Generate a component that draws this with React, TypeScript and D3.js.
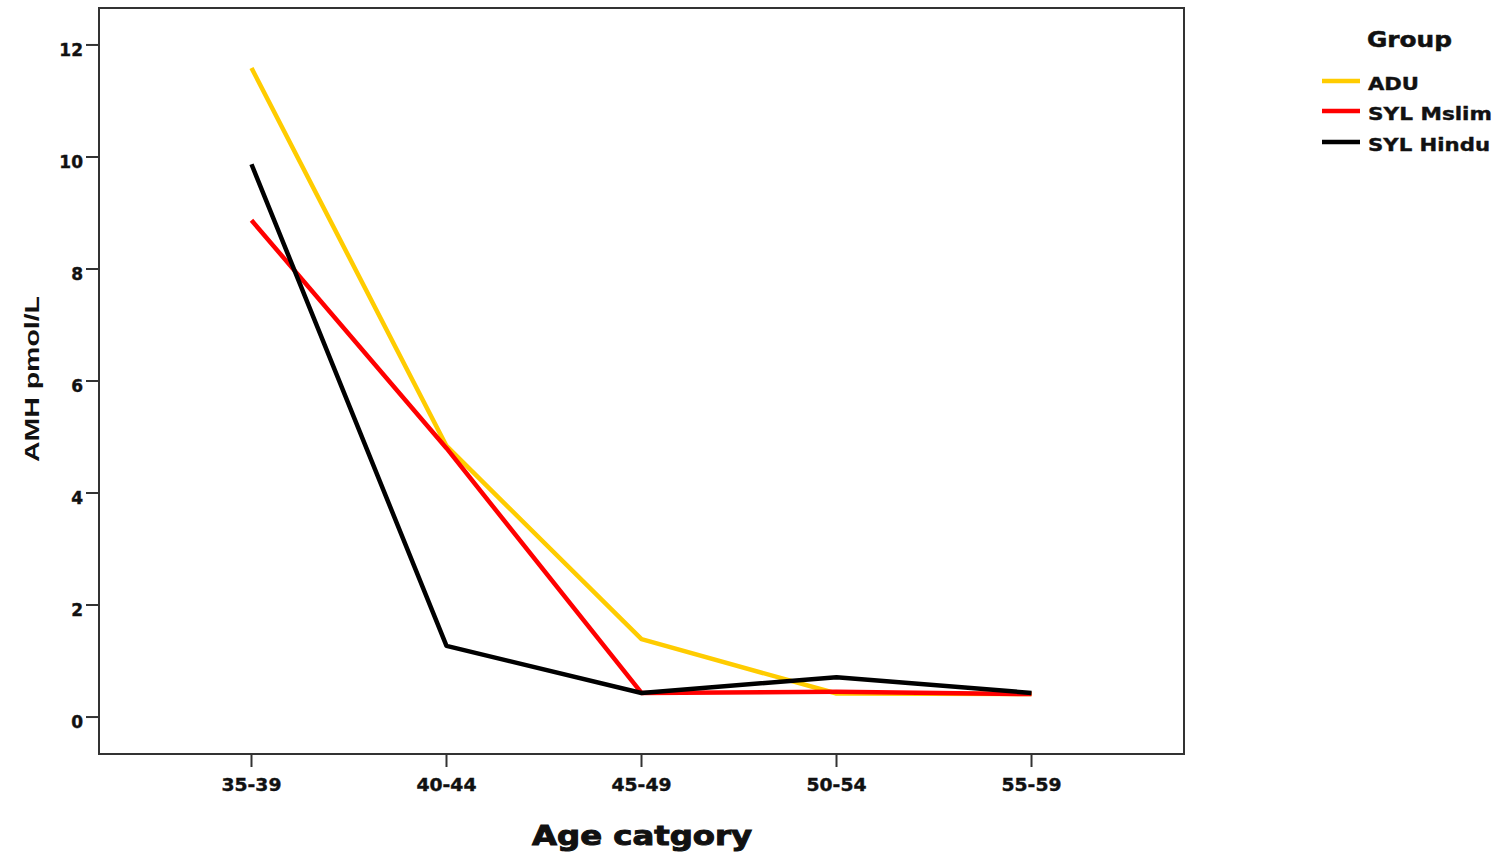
import React from "react";
import * as d3 from "d3";

const categories = ["35-39", "40-44", "45-49", "50-54", "55-59"];
const yTicks = [0, 2, 4, 6, 8, 10, 12];
const groups = ["ADU", "SYL Mslim", "SYL Hindu"];
const colors = ["#FFCC00", "#FF0000", "#000000"];
const aduValues = [11.59, 4.84, 1.39, 0.42, 0.41];
const mslimValues = [8.87, 4.8, 0.43, 0.45, 0.41];
const hinduValues = [9.87, 1.27, 0.43, 0.71, 0.43];
const seriesValues = [aduValues, mslimValues, hinduValues];

const FONT = "'DejaVu Sans', Verdana, sans-serif";
const FONT2 = "'Liberation Sans', Arial, sans-serif";

export default function App() {
  const W = 1497, H = 854;
  const left = 99, right = 1184, top = 8, bottom = 754;
  const x = d3.scalePoint<string>().domain(categories).range([left, right]).padding(0.782);
  const y = d3.scaleLinear().domain([-0.66, 12.66]).range([bottom, top]);
  const line = d3
    .line<number>()
    .x((_, i) => x(categories[i]) as number)
    .y((d) => y(d));

  return (
    <svg width={W} height={H} style={{ position: "absolute", left: 0, top: 0, background: "#fff" }}>
      <rect x={0} y={0} width={W} height={H} fill="#fff" />
      {seriesValues.map((vals, si) => (
        <path
          key={groups[si]}
          d={line(vals) || ""}
          fill="none"
          stroke={colors[si]}
          strokeWidth={4.5}
          strokeLinejoin="round"
        />
      ))}
      <rect x={left} y={top} width={right - left} height={bottom - top} fill="none" stroke="#333" strokeWidth={2} />
      {yTicks.map((t) => (
        <g key={t}>
          <line x1={left - 13} x2={left} y1={y(t)} y2={y(t)} stroke="#333" strokeWidth={2} />
          <text
            x={83}
            y={y(t) + 11}
            textAnchor="end"
            fontFamily={FONT}
            fontWeight="bold"
            fontSize={17}
            fill="#111"
            stroke="#111"
            strokeWidth={0.4}
          >
            {t}
          </text>
        </g>
      ))}
      {categories.map((c) => (
        <g key={c}>
          <line x1={x(c)} x2={x(c)} y1={bottom} y2={bottom + 13} stroke="#333" strokeWidth={2} />
          <text
            x={x(c) as number}
            y={791}
            textAnchor="middle"
            fontFamily={FONT}
            fontWeight="bold"
            fontSize={18}
            textLength={60}
            lengthAdjust="spacingAndGlyphs"
            fill="#111"
            stroke="#111"
            strokeWidth={0.4}
          >
            {c}
          </text>
        </g>
      ))}
      <text
        x={642}
        y={845}
        textAnchor="middle"
        fontFamily={FONT}
        fontWeight="bold"
        fontSize={27}
        textLength={220}
        lengthAdjust="spacingAndGlyphs"
        fill="#111"
        stroke="#111"
        strokeWidth={1}
      >
        Age catgory
      </text>
      <text
        transform={`translate(39,379) rotate(-90)`}
        textAnchor="middle"
        fontFamily={FONT2}
        fontWeight="bold"
        fontSize={21}
        textLength={166}
        lengthAdjust="spacingAndGlyphs"
        fill="#111"
      >
        AMH pmol/L
      </text>
      <text
        x={1367}
        y={47}
        fontFamily={FONT}
        fontWeight="bold"
        fontSize={21}
        textLength={85}
        lengthAdjust="spacingAndGlyphs"
        fill="#111"
        stroke="#111"
        strokeWidth={0.5}
      >
        Group
      </text>
      {groups.map((g, i) => {
        const ly = [81, 111, 142][i];
        const tl = [51, 124, 122][i];
        return (
          <g key={g}>
            <line x1={1322} x2={1360} y1={ly} y2={ly} stroke={colors[i]} strokeWidth={4.5} />
            <text
              x={1368}
              y={ly + 9}
              fontFamily={FONT}
              fontWeight="bold"
              fontSize={18}
              textLength={tl}
              lengthAdjust="spacingAndGlyphs"
              fill="#111"
              stroke="#111"
              strokeWidth={0.4}
            >
              {g}
            </text>
          </g>
        );
      })}
    </svg>
  );
}
